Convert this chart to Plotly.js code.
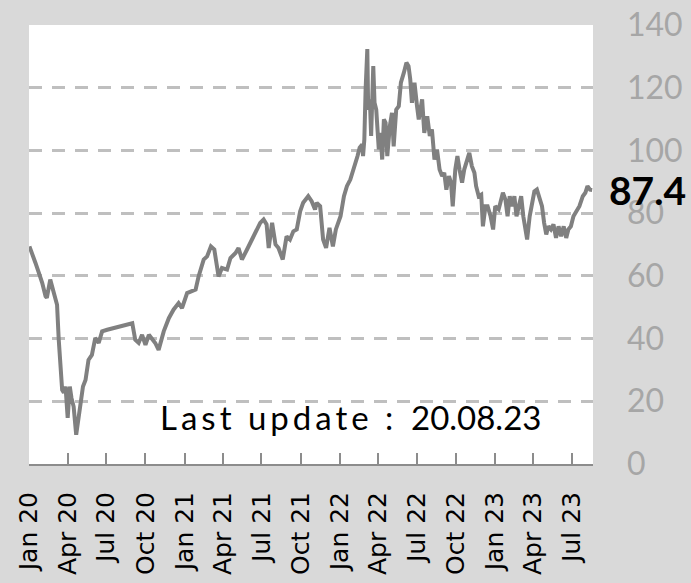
<!DOCTYPE html>
<html>
<head>
<meta charset="utf-8">
<script src="https://cdn.plot.ly/plotly-3.0.1.min.js"></script>
<style>
  html, body { margin: 0; padding: 0; background: #d9d9d9; }
  #chart { width: 691px; height: 583px; }
</style>
</head>
<body>
<div id="chart"></div>
<script>
const dates = [
'2020-01-02','2020-01-08','2020-01-16','2020-01-24','2020-02-01','2020-02-09','2020-02-12','2020-02-20','2020-02-28','2020-03-03',
'2020-03-07','2020-03-11','2020-03-15','2020-03-19','2020-03-23','2020-03-27','2020-04-01','2020-04-06','2020-04-10','2020-04-15',
'2020-04-21','2020-04-27','2020-05-02','2020-05-07','2020-05-13','2020-05-20','2020-05-28','2020-06-05','2020-06-13','2020-06-21',
'2020-07-03','2020-07-18','2020-08-03','2020-08-19','2020-08-31','2020-09-07','2020-09-15','2020-09-23','2020-10-01','2020-10-09',
'2020-10-24','2020-11-01','2020-11-13','2020-11-25','2020-12-06','2020-12-18','2020-12-26','2021-01-07','2021-01-19','2021-01-27',
'2021-02-03','2021-02-15','2021-02-23','2021-03-04','2021-03-12','2021-03-22','2021-03-30','2021-04-11','2021-04-19','2021-05-01',
'2021-05-08','2021-05-16','2021-05-28','2021-06-09','2021-06-21','2021-06-28','2021-07-06','2021-07-13','2021-07-18','2021-07-26',
'2021-08-03','2021-08-10','2021-08-20','2021-08-25','2021-08-29','2021-09-06','2021-09-14','2021-09-22','2021-09-30','2021-10-07',
'2021-10-19','2021-10-27','2021-11-04','2021-11-08','2021-11-16','2021-11-23','2021-11-30','2021-12-08','2021-12-16','2021-12-23',
'2022-01-03','2022-01-11','2022-01-18','2022-01-26','2022-02-03','2022-02-07','2022-02-12','2022-02-17','2022-02-23','2022-02-25',
'2022-02-28','2022-03-03','2022-03-07','2022-03-09','2022-03-13','2022-03-16','2022-03-21','2022-03-24','2022-03-28','2022-04-03',
'2022-04-07','2022-04-11','2022-04-15','2022-04-19','2022-04-23','2022-04-29','2022-05-04','2022-05-08','2022-05-14','2022-05-20',
'2022-05-25','2022-06-01','2022-06-07','2022-06-12','2022-06-16','2022-06-20','2022-06-26','2022-07-02','2022-07-06','2022-07-14',
'2022-07-19','2022-07-26','2022-08-01','2022-08-06','2022-08-12','2022-08-18','2022-08-24','2022-08-30','2022-09-04','2022-09-09',
'2022-09-15','2022-09-20','2022-09-24','2022-09-30','2022-10-05','2022-10-10','2022-10-16','2022-10-21','2022-10-27','2022-11-02',
'2022-11-08','2022-11-14','2022-11-18','2022-11-24','2022-11-30','2022-12-04','2022-12-10','2022-12-15','2022-12-22','2022-12-28',
'2023-01-02','2023-01-10','2023-01-20','2023-01-26','2023-01-31','2023-02-05','2023-02-11','2023-02-16','2023-02-21','2023-02-26',
'2023-03-04','2023-03-09','2023-03-14','2023-03-18','2023-03-24','2023-03-30','2023-04-04','2023-04-10','2023-04-16','2023-04-22',
'2023-04-27','2023-05-02','2023-05-07','2023-05-13','2023-05-19','2023-05-25','2023-05-31','2023-06-06','2023-06-12','2023-06-18',
'2023-06-23','2023-06-29','2023-07-05','2023-07-11','2023-07-19','2023-07-27','2023-08-02','2023-08-07','2023-08-13','2023-08-18'
];
const values = [
69.4,66.8,64.2,61.0,57.8,53.5,53.0,58.8,54.6,51.9,
50.8,39.6,32.3,23.6,22.7,24.7,14.7,24.7,21.0,18.3,
9.3,15.1,19.5,24.7,26.8,33.2,34.8,40.2,38.6,42.3,
42.8,43.4,43.9,44.4,44.9,39.6,38.6,41.2,38.0,41.2,
38.6,36.4,42.3,46.5,49.2,51.3,49.7,54.5,55.0,55.6,
59.8,65.2,66.2,69.4,68.4,59.8,62.5,62.0,65.7,67.3,
68.9,65.2,68.4,71.6,74.8,76.9,78.0,76.4,68.9,76.9,
70.0,68.9,65.2,70.5,72.6,71.6,74.2,74.8,80.6,83.3,
85.4,83.8,81.2,83.3,82.2,71.6,68.9,75.3,69.4,74.8,
79.0,85.4,88.6,90.7,93.9,96.1,98.2,100.9,101.9,98.2,
103.5,119.5,132.3,113.0,116.3,104.6,126.9,115.2,113.0,100.3,
105.6,97.1,109.9,108.8,98.2,107.8,112.0,101.3,113.0,114.1,
121.6,124.8,128.0,126.9,122.7,115.2,121.6,114.1,109.9,116.3,
105.6,110.9,104.6,106.7,97.1,100.3,93.9,91.8,92.9,87.5,
91.8,89.7,82.2,93.9,98.2,93.9,89.7,93.9,96.1,99.2,
95.0,92.9,88.6,85.4,85.9,75.8,82.2,82.2,79.0,74.8,
82.2,81.2,86.5,84.3,79.0,85.4,82.2,85.4,79.0,82.2,
85.4,79.0,73.7,71.6,79.0,84.3,86.9,87.5,84.3,82.2,
76.9,73.2,75.8,74.8,76.4,72.1,75.8,72.6,75.8,72.1,
74.8,75.8,79.0,80.6,82.2,85.4,86.5,88.6,87.5,87.4
];
const tickDates = ['2020-01-01','2020-04-01','2020-07-01','2020-10-01','2021-01-01','2021-04-01','2021-07-01','2021-10-01',
  '2022-01-01','2022-04-01','2022-07-01','2022-10-01','2023-01-01','2023-04-01','2023-07-01'];
const tickLabels = ['Jan 20','Apr 20','Jul 20','Oct 20','Jan 21','Apr 21','Jul 21','Oct 21',
  'Jan 22','Apr 22','Jul 22','Oct 22','Jan 23','Apr 23','Jul 23'];
const yTicks = [0,20,40,60,80,100,120,140];
const lastValueLabel = '87.4';
const updateLabel = 'Last update :';
const updateDate = '20.08.23';

const trace = {
  x: dates, y: values, type: 'scatter', mode: 'lines',
  line: {color: '#808080', width: 4},
  hoverinfo: 'skip'
};

const layout = {
  width: 691, height: 583,
  margin: {l: 29, r: 98, t: 25, b: 119, pad: 0},
  paper_bgcolor: '#d9d9d9',
  plot_bgcolor: '#ffffff',
  showlegend: false,
  xaxis: {
    type: 'date',
    range: ['2020-01-01', '2023-08-20'],
    tickmode: 'array', tickvals: tickDates, ticktext: tickLabels,
    tickangle: -90,
    ticks: 'inside', ticklen: 11, tickwidth: 2, tickcolor: '#8c8c8c',
    showline: true, linecolor: '#8c8c8c', linewidth: 2,
    showgrid: false, zeroline: false,
    tickfont: {family: 'DejaVu Sans', size: 25, color: '#000000'},
    automargin: false,
    ticklabelstandoff: 16
  },
  yaxis: {
    range: [0, 140], side: 'right',
    tickmode: 'array', tickvals: yTicks,
    ticks: '', showline: false, zeroline: false,
    showgrid: true, gridcolor: '#bfbfbf', gridwidth: 3, griddash: '13px,10px',
    tickfont: {family: 'Lato', size: 32, color: '#a6a6a6'},
    automargin: false,
    ticklabelstandoff: 33
  },
  annotations: [
    {x: 1, xref: 'paper', y: 87.4, yref: 'y', xanchor: 'left', yanchor: 'middle', xshift: 14,
     text: '<b>' + lastValueLabel + '</b>', showarrow: false,
     font: {family: 'Lato', size: 39, color: '#000000'}},
    {x: '2021-08-09', xref: 'x', y: 15, yref: 'y', xanchor: 'center', yanchor: 'middle',
     text: updateLabel, showarrow: false,
     font: {family: 'Lato', size: 33, color: '#000000'}},
    {x: '2022-06-14', xref: 'x', y: 15, yref: 'y', xanchor: 'left', yanchor: 'middle',
     text: updateDate, showarrow: false,
     font: {family: 'Lato', size: 33, color: '#000000'}}
  ]
};

Plotly.newPlot('chart', [trace], layout, {displayModeBar: false, staticPlot: true}).then(function(gd){
  const anns = gd.querySelectorAll('.annotation-text');
  if (anns[1]) anns[1].style.letterSpacing = '4px';
});
</script>
</body>
</html>
